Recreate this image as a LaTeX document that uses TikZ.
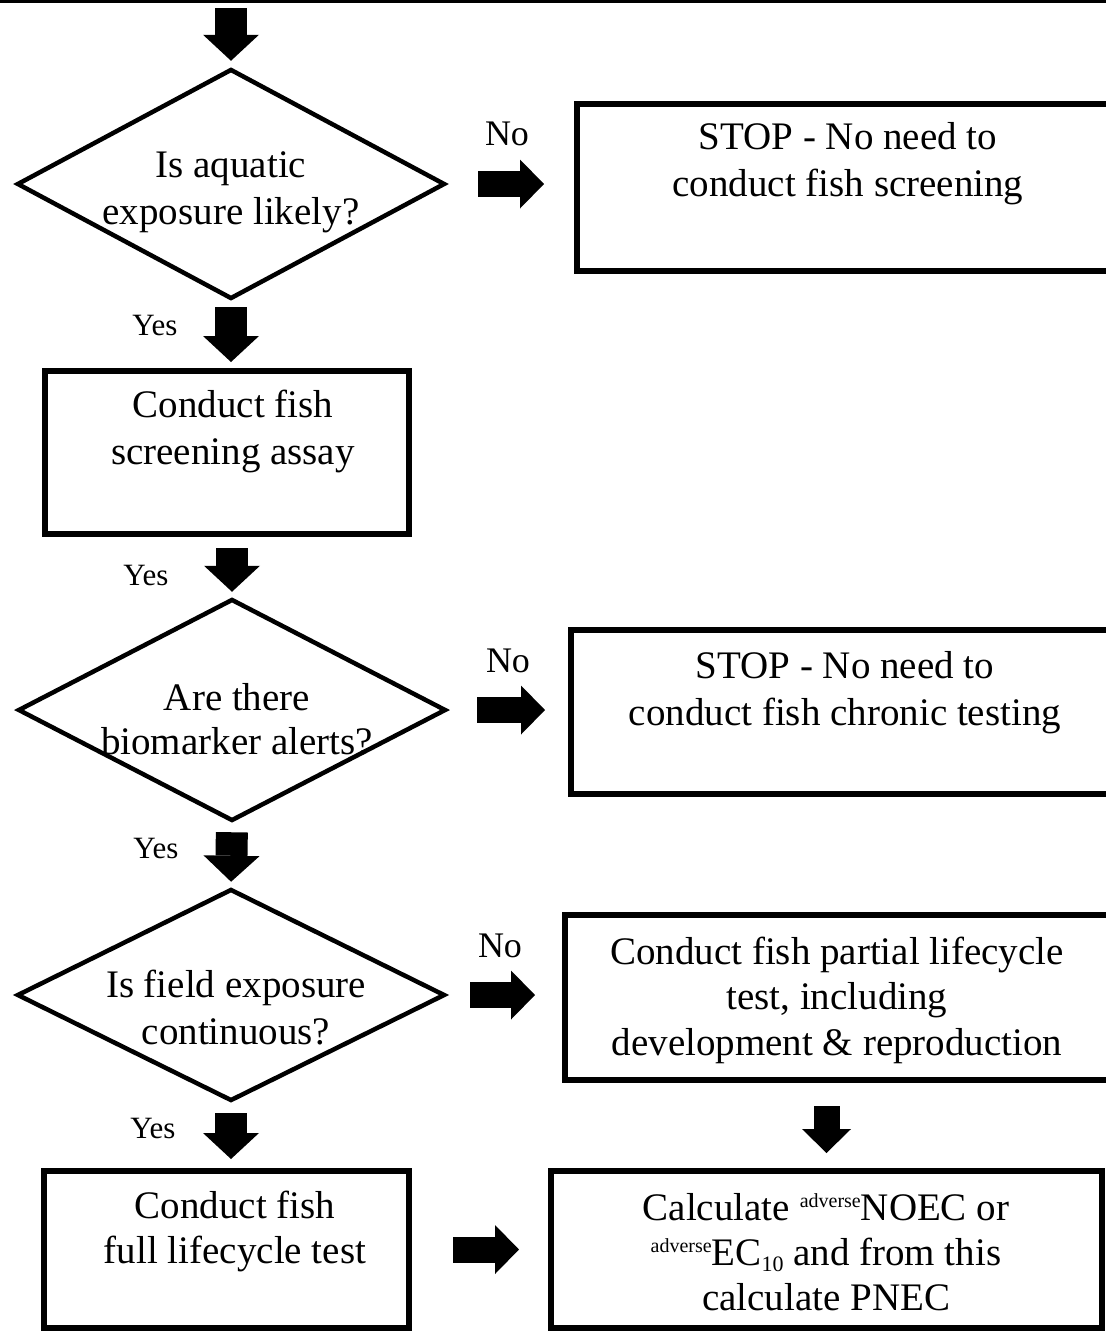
\documentclass[tikz,border=0pt]{standalone}
\usepackage{fontspec}
\setmainfont{Liberation Serif}
\usetikzlibrary{shapes.geometric,arrows.meta,calc}
\newcommand\fsz[2]{\fontsize{#1}{#2}\selectfont}
\tikzset{
  box/.style={draw, line width=6pt, rectangle, inner sep=0pt},
  dia/.style={draw, line width=4.5pt, diamond, inner sep=0pt},
  txt/.style={inner sep=0pt, align=center, font=\fsz{39}{47}},
  lbl/.style={inner sep=0pt, anchor=base},
  yeslbl/.style={lbl, font=\fsz{31}{31}},
  nolbl/.style={lbl, font=\fsz{36}{36}},
  vbig/.style={line width=32pt, -{Triangle[length=26pt,width=56pt,line width=0pt]}},
  hbig/.style={line width=26pt, -{Triangle[length=24pt,width=49pt,line width=0pt]}},
}
\begin{document}
\begin{tikzpicture}[x=1pt,y=-1pt]
\useasboundingbox (0,0) rectangle (1106,1334);
% top rule
\coordinate (ruleL) at (0,1.5);
\coordinate (ruleR) at (1106,1.5);
\draw[line width=2.5pt] (ruleL) -- (ruleR);
\coordinate (top) at (231,8);

% decisions
\node[dia, minimum width=428, minimum height=230] (d1) at (231,184) {};
\node[dia, minimum width=428, minimum height=222] (d2) at (232,710) {};
\node[dia, minimum width=428, minimum height=212] (d3) at (231,995) {};

% boxes
\node[box, minimum width=542, minimum height=167] (stop1) at (848,187.5) {};
\node[box, minimum width=364, minimum height=163] (screen) at (227,452.5) {};
\node[box, minimum width=548, minimum height=164] (stop2) at (845,712) {};
\node[box, minimum width=544, minimum height=165] (partial) at (837,997.5) {};
\node[box, minimum width=365, minimum height=157] (full) at (226.5,1249.5) {};
\node[box, minimum width=551, minimum height=157] (calc) at (826.5,1249.5) {};

% texts
\node[txt] (td1) at (231,192.3) {Is aquatic\\exposure likely?};
\node[txt] (ts1) at (848,163.3) {STOP - No need to\\conduct fish screening};
\node[txt] (tscr) at (233,431.3) {Conduct fish\\screening assay};
\node[txt, font=\fsz{39}{44}] (td2) at (237,719.3) {Are there\\biomarker alerts?};
\node[txt] (ts2) at (845,692.3) {STOP - No need to\\conduct fish chronic testing};
\node[txt] (td3) at (236,1007.3) {Is field exposure\\continuous?};
\node[txt, font=\fsz{39}{45.5}] (tpart) at (837,1000.3) {Conduct fish partial lifecycle\\test, including\\development \& reproduction};
\node[txt, font=\fsz{39}{45}] (tfull) at (235,1231.3) {Conduct fish\\full lifecycle test};
\node[txt, font=\fsz{39}{45}] (tcalc) at (826,1252) {Calculate \raisebox{13pt}{\fsz{20}{20}adverse}NOEC or\\\raisebox{13pt}{\fsz{20}{20}adverse}EC\raisebox{-6pt}{\fsz{22}{22}10} and from this\\calculate PNEC};

% labels
\node[nolbl] (no1) at (507,145) {No};
\node[nolbl] (no2) at (508,672) {No};
\node[nolbl] (no3) at (500,957) {No};
\node[yeslbl] (yes1) at (155,335) {Yes};
\node[yeslbl] (yes2) at (146,585) {Yes};
\node[yeslbl] (yes3) at (156,858) {Yes};
\node[yeslbl] (yes4) at (153,1138) {Yes};

% block arrows
\draw[vbig, shorten >=6pt] (top) -- (d1.north);
\draw[vbig, shorten <=6pt, shorten >=6pt] (d1.south) -- (screen.north -| d1.south);
\draw[vbig, shorten <=11pt, shorten >=5pt] (screen.south -| d2.north) -- (d2.north);
\draw[vbig, shorten <=9pt, shorten >=5pt] (d2.south) -- (d3.north);
\draw[vbig, shorten <=10pt, shorten >=9pt] (d3.south) -- (full.north -| d3.south);
\draw[hbig, shorten <=31pt, shorten >=30pt] (d1.east) -- (d1.east -| stop1.west);
\draw[hbig, shorten <=29pt, shorten >=23pt] (d2.east) -- (d2.east -| stop2.west);
\draw[hbig, shorten <=23pt, shorten >=27pt] (d3.east) -- (d3.east -| partial.west);
\draw[hbig, shorten <=23pt, shorten >=15pt] (partial.south -| calc.north) -- (calc.north);
\draw[hbig, shorten <=41pt, shorten >=29pt] (full.east) -- (calc.west);
\end{tikzpicture}
\end{document}
